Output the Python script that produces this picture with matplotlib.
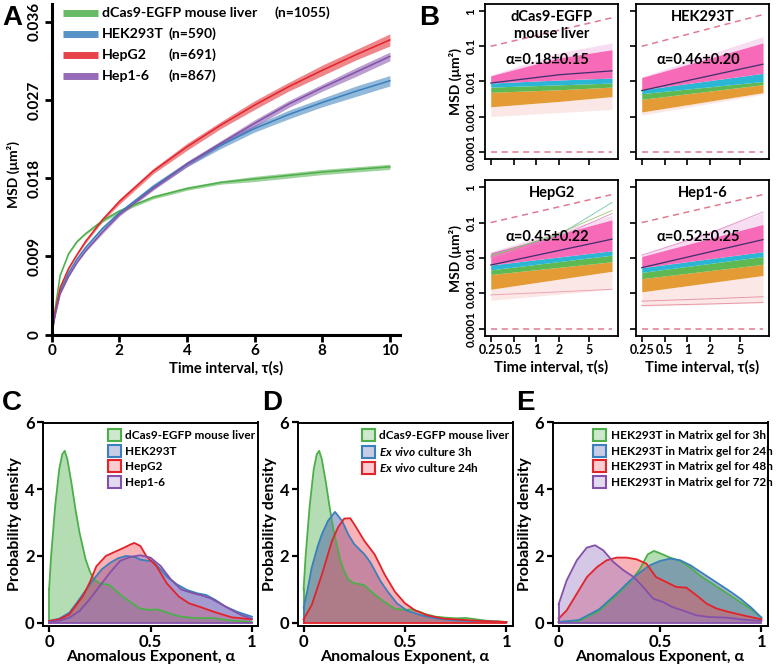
import numpy as np
import matplotlib.pyplot as plt
from matplotlib.ticker import NullLocator
from matplotlib.patches import Patch
from matplotlib.colors import to_rgb

plt.rcParams['font.family'] = ['Lato', 'DejaVu Sans']
plt.rcParams['font.weight'] = 'bold'
plt.rcParams['axes.labelweight'] = 'bold'
plt.rcParams['mathtext.fontset'] = 'custom'
plt.rcParams['mathtext.it'] = 'Lato:italic:bold'
plt.rcParams['mathtext.rm'] = 'Lato:bold'

# ---- panel A: mean MSD curves ----
msd_t = [0, 0.1, 0.25, 0.5, 0.75, 1, 1.5, 2, 3, 4, 5, 6, 7, 8, 9, 10]
msd_liver = [0, 0.0029, 0.0068, 0.0093, 0.0107, 0.0116, 0.0131, 0.0142, 0.0158, 0.0168, 0.0175, 0.0179, 0.0183, 0.0187, 0.0190, 0.0193]
msd_hek = [0, 0.0024, 0.0050, 0.0071, 0.0087, 0.0100, 0.0122, 0.0140, 0.0170, 0.0196, 0.0218, 0.0237, 0.0253, 0.0267, 0.0280, 0.0292]
msd_hepg2 = [0, 0.0025, 0.0054, 0.0076, 0.0092, 0.0107, 0.0132, 0.0153, 0.0188, 0.0216, 0.0241, 0.0264, 0.0285, 0.0304, 0.0322, 0.0339]
msd_hep16 = [0, 0.0022, 0.0047, 0.0067, 0.0083, 0.0096, 0.0118, 0.0138, 0.0168, 0.0196, 0.0220, 0.0243, 0.0265, 0.0284, 0.0302, 0.0320]
err_liver = [0, 0.0001, 0.0001, 0.0001, 0.0001, 0.0001, 0.0002, 0.0002, 0.0002, 0.0002, 0.0002, 0.0003, 0.0003, 0.0003, 0.0003, 0.0003]
err_hek = [0, 0.0001, 0.0001, 0.0001, 0.0001, 0.0002, 0.0002, 0.0002, 0.0003, 0.0003, 0.0004, 0.0004, 0.0005, 0.0005, 0.0006, 0.0006]
err_hepg2 = [0, 0.0001, 0.0001, 0.0001, 0.0001, 0.0002, 0.0002, 0.0003, 0.0003, 0.0004, 0.0004, 0.0005, 0.0005, 0.0006, 0.0006, 0.0007]
err_hep16 = [0, 0.0001, 0.0001, 0.0001, 0.0001, 0.0001, 0.0002, 0.0002, 0.0002, 0.0003, 0.0003, 0.0004, 0.0004, 0.0004, 0.0005, 0.0005]
a_names = ['dCas9-EGFP mouse liver', 'HEK293T', 'HepG2', 'Hep1-6']
a_counts = ['(n=1055)', '(n=590)', '(n=691)', '(n=867)']

# ---- panel B: single trajectory bundles (band edges, bottom to top) ----
b_titles = ['dCas9-EGFP\nmouse liver', 'HEK293T', 'HepG2', 'Hep1-6']
b_alpha_text = ['α=0.18±0.15', 'α=0.46±0.20', 'α=0.45±0.22', 'α=0.52±0.25']
liver_t = [0.25, 2, 10]
liver_bounds = [[0.0010, 0.0013, 0.0016], [0.0019, 0.0027, 0.0037], [0.0049, 0.0058, 0.0069],
                [0.0069, 0.0080, 0.0090], [0.0090, 0.0110, 0.0125], [0.0145, 0.047, 0.080],
                [0.0150, 0.065, 0.125]]
liver_mean = [0.0090, 0.0155, 0.0200]
hek_t = [0.25, 10]
hek_bounds = [[0.0011, 0.0043], [0.00135, 0.0048], [0.0031, 0.0081], [0.0045, 0.0100],
              [0.0058, 0.017], [0.0129, 0.125], [0.0135, 0.19]]
hek_mean = [0.0055, 0.031]
hepg2_t = [0.25, 10]
hepg2_bounds = [[0.00063, 0.0013], [0.0013, 0.0042], [0.0034, 0.0078], [0.0046, 0.012],
                [0.0063, 0.016], [0.014, 0.12], [0.015, 0.16]]
hepg2_mean = [0.0063, 0.034]
hep16_t = [0.25, 10]
hep16_bounds = [[0.00043, 0.00054], [0.0011, 0.0032], [0.0026, 0.0066], [0.0039, 0.011],
                [0.0053, 0.015], [0.011, 0.089], [0.012, 0.19]]
hep16_mean = [0.0053, 0.033]
# a few stray trajectories that leave the bundle
outlier_t = [0.25, 2, 10]
hepg2_outliers = [[0.012, 0.045, 0.37], [0.010, 0.040, 0.18], [0.011, 0.050, 0.22], [0.0009, 0.0011, 0.0013]]
hepg2_outlier_cols = ['#6CC5B0', '#E58AC8', '#9CC26A', '#E89AA8']
hep16_outliers = [[0.0006, 0.0007, 0.0008], [0.00045, 0.0005, 0.00055], [0.012, 0.05, 0.2]]
hep16_outlier_cols = ['#E58A9A', '#E58A9A', '#E58AC8']
dash_top = [0.65, 0.80, 0.62, 0.62]
b_ticks = [0.25, 0.5, 1, 2, 5]
b_tick_labels = ['0.25', '0.5', '1', '2', '5']
b_yticks = [0.0001, 0.001, 0.01, 0.1, 1]
b_ytick_labels = ['0.0001', '0.001', '0.01', '0.1', '1']

# ---- panels C-E: alpha distributions ----
x_liver = [0, 0.01, 0.03, 0.05, 0.065, 0.077, 0.09, 0.11, 0.13, 0.15, 0.18, 0.2, 0.22, 0.25, 0.28, 0.3, 0.33,
           0.36, 0.4, 0.45, 0.5, 0.53, 0.57, 0.6, 0.65, 0.7, 0.75, 0.8, 0.85, 0.9, 0.95, 1.0]
d_liver = [1.0, 2.0, 3.5, 4.6, 5.05, 5.15, 4.9, 4.2, 3.4, 2.7, 1.9, 1.55, 1.3, 1.18, 1.15, 1.12, 0.95,
           0.8, 0.62, 0.42, 0.38, 0.40, 0.33, 0.26, 0.18, 0.15, 0.13, 0.14, 0.10, 0.06, 0.04, 0.02]
x_hek = [0, 0.05, 0.1, 0.135, 0.17, 0.217, 0.26, 0.3, 0.34, 0.38, 0.42, 0.45, 0.48, 0.51, 0.55, 0.58, 0.63,
         0.68, 0.73, 0.775, 0.82, 0.87, 0.93, 1.0]
d_hek = [0.05, 0.12, 0.3, 0.58, 0.88, 1.28, 1.6, 1.79, 1.93, 2.0, 1.97, 1.89, 1.86, 1.84, 1.6, 1.38, 1.15,
         0.98, 0.88, 0.83, 0.68, 0.48, 0.32, 0.18]
x_hepg2 = [0, 0.05, 0.1, 0.167, 0.2, 0.233, 0.28, 0.33, 0.37, 0.4, 0.42, 0.45, 0.48, 0.53, 0.58, 0.64, 0.69,
           0.74, 0.81, 0.9, 1.0]
d_hepg2 = [0.05, 0.1, 0.25, 0.8, 1.2, 1.69, 2.0, 2.14, 2.25, 2.34, 2.39, 2.3, 1.99, 1.69, 1.18, 0.78, 0.58,
           0.48, 0.33, 0.16, 0.1]
x_hep16 = [0, 0.05, 0.1, 0.15, 0.2, 0.25, 0.3, 0.35, 0.4, 0.45, 0.5, 0.55, 0.6, 0.65, 0.7, 0.75, 0.8, 0.85,
           0.9, 0.95, 1.0]
d_hep16 = [0.02, 0.06, 0.15, 0.35, 0.7, 1.1, 1.5, 1.85, 1.97, 2.02, 1.95, 1.7, 1.3, 1.0, 0.9, 0.82, 0.72, 0.55,
           0.38, 0.22, 0.12]
x_3h = [0, 0.02, 0.04, 0.07, 0.09, 0.12, 0.155, 0.19, 0.22, 0.25, 0.3, 0.33, 0.38, 0.415, 0.46, 0.51, 0.58,
        0.66, 0.74, 0.82, 0.9, 1.0]
d_3h = [0.45, 1.0, 1.65, 2.3, 2.65, 3.05, 3.32, 3.05, 2.65, 2.35, 2.05, 1.8, 1.24, 0.93, 0.58, 0.36, 0.22,
        0.12, 0.07, 0.05, 0.04, 0.02]
x_24h = [0, 0.04, 0.09, 0.14, 0.17, 0.2, 0.23, 0.25, 0.3, 0.35, 0.4, 0.45, 0.5, 0.55, 0.61, 0.69, 0.77, 0.85,
         0.92, 1.0]
d_24h = [0.1, 0.53, 1.44, 2.45, 2.86, 3.12, 3.13, 2.95, 2.45, 2.05, 1.44, 0.93, 0.58, 0.37, 0.22, 0.12, 0.09,
         0.06, 0.04, 0.02]
x_gel3 = [0, 0.1, 0.2, 0.3, 0.35, 0.4, 0.44, 0.47, 0.5, 0.55, 0.6, 0.65, 0.7, 0.75, 0.8, 0.85, 0.9, 0.95, 1.0]
d_gel3 = [0.02, 0.05, 0.35, 0.9, 1.2, 1.6, 2.05, 2.15, 2.08, 1.95, 1.85, 1.65, 1.4, 1.2, 1.0, 0.8, 0.6, 0.4, 0.15]
x_gel24 = [0, 0.1, 0.2, 0.3, 0.35, 0.4, 0.45, 0.5, 0.55, 0.6, 0.65, 0.7, 0.75, 0.8, 0.85, 0.9, 0.95, 1.0]
d_gel24 = [0.02, 0.08, 0.4, 0.95, 1.25, 1.5, 1.72, 1.85, 1.92, 1.87, 1.72, 1.52, 1.32, 1.12, 0.92, 0.7, 0.45, 0.15]
x_gel48 = [0, 0.04, 0.09, 0.14, 0.19, 0.237, 0.286, 0.335, 0.384, 0.433, 0.48, 0.53, 0.58, 0.63, 0.68, 0.73,
           0.78, 0.84, 0.91, 1.0]
d_gel48 = [0.12, 0.37, 0.87, 1.37, 1.67, 1.87, 1.95, 1.95, 1.9, 1.77, 1.37, 1.22, 1.07, 1.05, 0.82, 0.57,
           0.42, 0.32, 0.22, 0.1]
x_gel72 = [0, 0.04, 0.09, 0.139, 0.18, 0.22, 0.27, 0.32, 0.37, 0.417, 0.466, 0.515, 0.56, 0.61, 0.68, 0.74,
           0.83, 0.91, 1.0]
d_gel72 = [0.55, 1.27, 1.87, 2.25, 2.32, 2.17, 1.82, 1.57, 1.37, 1.07, 0.72, 0.62, 0.47, 0.37, 0.22, 0.17,
           0.15, 0.09, 0.05]

c_labels = ['dCas9-EGFP mouse liver', 'HEK293T', 'HepG2', 'Hep1-6']
d_labels = ['dCas9-EGFP mouse liver', r'$\it{Ex\ vivo}$ culture 3h', r'$\it{Ex\ vivo}$ culture 24h']
e_labels = ['HEK293T in Matrix gel for 3h', 'HEK293T in Matrix gel for 24h',
            'HEK293T in Matrix gel for 48h', 'HEK293T in Matrix gel for 72h']

line_cols = ['#4DAF4A', '#3A80BC', '#E2232A', '#8450AA']
fill_cols = ['#4DAF4A', '#3A4AA6', '#EE4A55', '#9A7CC4']

W, H = 776, 665
fig = plt.figure(figsize=(W / 100, H / 100), dpi=100)


def px_axes(left, top, right, bottom):
    return fig.add_axes([left / W, 1 - bottom / H, (right - left) / W, (bottom - top) / H])


# ================= A =================
ax = px_axes(51.7, 4.3, 400, 334.5)
for y, e, c in zip([msd_liver, msd_hek, msd_hepg2, msd_hep16], [err_liver, err_hek, err_hepg2, err_hep16], line_cols):
    y = np.array(y)
    e = np.array(e)
    ax.fill_between(msd_t, y - e, y + e, color=c, alpha=0.55, lw=0)
    ax.plot(msd_t, y, color=c, lw=1.1)
ax.set_xlim(0, 10.3)
ax.set_ylim(0, 0.038)
ax.set_xticks([0, 2, 4, 6, 8, 10])
ax.set_yticks([0, 0.009, 0.018, 0.027, 0.036])
ax.set_yticklabels(['0', '0.009', '0.018', '0.027', '0.036'], rotation=90, va='center')
for s in ['top', 'right']:
    ax.spines[s].set_visible(False)
for s in ['left', 'bottom']:
    ax.spines[s].set_linewidth(2.2)
ax.tick_params(direction='out', length=5, width=2, labelsize=11, pad=2)
ax.set_xlabel('Time interval, τ(s)', fontsize=10.5, labelpad=2)
fig.text(13 / W, 1 - 175 / H, 'MSD (μm²)', rotation=90, ha='center', va='center', fontsize=10)
rows = [13, 34, 55, 76]
for name, n, c, ry in zip(a_names, a_counts, line_cols, rows):
    yy = (334.5 - ry) / 330.2
    ax.plot([0.032, 0.133], [yy, yy], color=c, lw=5, alpha=0.85, transform=ax.transAxes, clip_on=False,
            solid_capstyle='butt')
    ax.text(0.145, yy, name, transform=ax.transAxes, va='center', fontsize=10.2)
    ax.text(0.64 if n == '(n=1055)' else 0.334, yy, n, transform=ax.transAxes, va='center', fontsize=10)

# ================= B =================
band_cols = ['#F08A8A', '#E3952A', '#55B649', '#1EB2D2', '#F762B4', '#E78FD6']
band_alpha = [0.2, 0.95, 0.95, 0.95, 0.95, 0.3]
b_boxes = [(485, 4, 618, 159), (636, 4, 769, 159), (485, 180, 618, 336), (636, 180, 769, 336)]
b_data = [(liver_t, liver_bounds, liver_mean, [], []), (hek_t, hek_bounds, hek_mean, [], []),
          (hepg2_t, hepg2_bounds, hepg2_mean, hepg2_outliers, hepg2_outlier_cols),
          (hep16_t, hep16_bounds, hep16_mean, hep16_outliers, hep16_outlier_cols)]
for i, (box, (tt, bounds, mean, extra, extra_cols)) in enumerate(zip(b_boxes, b_data)):
    ax = px_axes(*box)
    ax.set_xscale('log')
    ax.set_yscale('log')
    for lo, hi, c, al in zip(bounds[:-1], bounds[1:], band_cols, band_alpha):
        ax.fill_between(tt, lo, hi, color=c, alpha=al, lw=0)
    for ln, c in zip(extra, extra_cols):
        ax.plot(outlier_t, ln, color=c, lw=0.7, alpha=0.85)
    ax.plot(tt, mean, color='#3E2F6E', lw=0.9)
    ax.plot([0.25, 10], [0.1, dash_top[i]], ls='--', dashes=(4, 3), color='#E07A90', lw=1.1)
    ax.plot([0.25, 10], [0.0001, 0.0001], ls='--', dashes=(4, 3), color='#E07A90', lw=1.1)
    ax.set_xlim(0.21, 12)
    ax.set_ylim(6.2e-5, 1.6)
    ax.set_xticks(b_ticks)
    ax.set_yticks(b_yticks)
    ax.xaxis.set_minor_locator(NullLocator())
    ax.yaxis.set_minor_locator(NullLocator())
    if i >= 2:
        ax.set_xticklabels(b_tick_labels)
        ax.set_xlabel('Time interval, τ(s)', fontsize=10.5, labelpad=3)
    else:
        ax.set_xticklabels([])
    if i % 2 == 0:
        ax.set_yticklabels(b_ytick_labels, rotation=90, va='center')
        ax.set_ylabel('MSD (μm²)', fontsize=10, labelpad=3)
    else:
        ax.set_yticklabels([])
    for s in ax.spines.values():
        s.set_linewidth(1.3)
    ax.tick_params(direction='out', length=4, width=1.2, labelsize=8.3, pad=2)
    ax.tick_params(axis='x', labelsize=9)
    ax.text(0.5, 0.96, b_titles[i], transform=ax.transAxes, ha='center', va='top', fontsize=10.5,
            linespacing=1.3)
    ax.text(1.4, 0.04, b_alpha_text[i], ha='center', va='center', fontsize=10.5)


# ================= C, D, E =================
def density_panel(box, series, labels, cols, fcols, leg_x):
    ax = px_axes(*box)
    for (x, d), c, fc in zip(series, cols, fcols):
        ax.fill_between(x, 0, d, facecolor=fc, alpha=0.42, edgecolor='none')
        ax.plot(x, d, color=c, lw=1.3)
        ax.plot([x[0], x[0]], [0, d[0]], color=c, lw=1.3)
    ax.plot([0, 1], [0, 0], color=cols[-1], lw=1.3)
    ax.set_xlim(-0.03, 1.03)
    ax.set_ylim(-0.1, 6)
    ax.set_xticks([0, 0.5, 1])
    ax.set_xticklabels(['0', '0.5', '1'])
    ax.set_yticks([0, 2, 4, 6])
    for s in ax.spines.values():
        s.set_linewidth(1.4)
    ax.tick_params(direction='out', length=4, width=1.6, labelsize=12, pad=2)
    ax.set_xlabel('Anomalous Exponent, α', fontsize=11.5, labelpad=0)
    ax.set_ylabel('Probability density', fontsize=11.5, labelpad=2)
    handles = [Patch(facecolor=(*to_rgb(fc), 0.28), edgecolor=c, lw=1.5) for c, fc in zip(cols, fcols)]
    ax.legend(handles, labels, loc='upper left', bbox_to_anchor=(leg_x, 1.0), frameon=False,
              fontsize=8.5, handlelength=1.1, handleheight=1.2, handletextpad=0.35, labelspacing=0.3,
              borderaxespad=0.15)
    return ax


density_panel((43, 422.5, 258, 626),
              [(x_liver, d_liver), (x_hek, d_hek), (x_hepg2, d_hepg2), (x_hep16, d_hep16)],
              c_labels, line_cols, fill_cols, 0.27)
density_panel((297.5, 422.5, 512.5, 626),
              [(x_liver, d_liver), (x_3h, d_3h), (x_24h, d_24h)],
              d_labels, line_cols[:3], fill_cols[:3], 0.27)
density_panel((552.5, 422.5, 767.5, 626),
              [(x_gel3, d_gel3), (x_gel24, d_gel24), (x_gel48, d_gel48), (x_gel72, d_gel72)],
              e_labels, line_cols, fill_cols, 0.16)

for letter, x, y in [('A', 2, 5), ('B', 419, 5), ('C', 2, 390), ('D', 262, 390), ('E', 516, 390)]:
    fig.text(x / W, 1 - y / H, letter, fontsize=20, fontweight='bold', va='top', ha='left',
             family=['Liberation Sans', 'DejaVu Sans'])

fig.savefig('out.png', dpi=100)
